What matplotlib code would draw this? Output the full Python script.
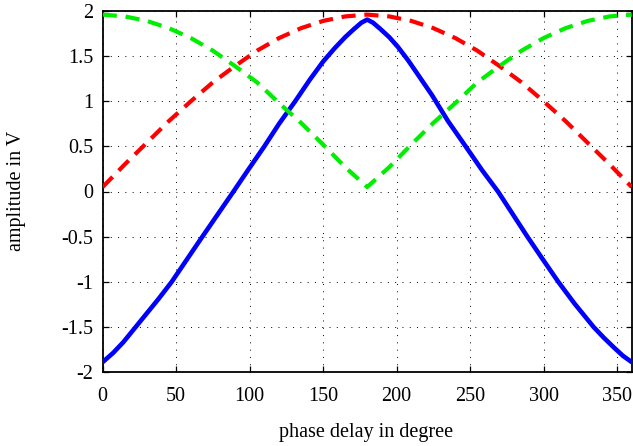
import numpy as np
import matplotlib
matplotlib.use('Agg')
import matplotlib.pyplot as plt

plt.rcParams['font.family'] = ['Liberation Serif', 'DejaVu Serif']
plt.rcParams['font.size'] = 14.5

# phase delay in degree
deg_15 = [0, 15, 30, 45, 60, 75, 90, 105, 120, 135, 150, 165, 180,
          195, 210, 225, 240, 255, 270, 285, 300, 315, 330, 345, 360]
red_vals = [0.05, 0.30, 0.54, 0.78, 1.00, 1.21, 1.39, 1.56, 1.70, 1.81, 1.89, 1.94, 1.96,
            1.94, 1.89, 1.81, 1.70, 1.56, 1.39, 1.21, 1.00, 0.78, 0.54, 0.30, 0.05]
green_vals = [1.96, 1.94, 1.89, 1.81, 1.70, 1.56, 1.39, 1.21, 0.98, 0.76, 0.52, 0.27, 0.05,
              0.27, 0.52, 0.76, 0.98, 1.21, 1.39, 1.56, 1.70, 1.81, 1.89, 1.94, 1.96]

blue_deg = [0, 7, 14, 21, 29, 38, 47, 57, 67, 78, 89, 99, 110, 120, 131, 141,
            150, 158, 165, 171, 176, 180,
            184, 189, 195, 201, 208, 216, 224, 235, 247, 258, 269, 279, 289, 299,
            310, 321, 334, 341, 348, 354, 360]
blue_vals = [-1.89, -1.79, -1.67, -1.53, -1.37, -1.19, -1.0, -0.76, -0.52, -0.26, 0.0,
             0.24, 0.5, 0.75, 1.0, 1.24, 1.44, 1.59, 1.71, 1.80, 1.87, 1.905,
             1.87, 1.80, 1.71, 1.60, 1.45, 1.26, 1.07, 0.78, 0.5, 0.24, 0.0, -0.25,
             -0.5, -0.74, -1.0, -1.24, -1.5, -1.62, -1.73, -1.82, -1.89]

xticks = [0, 50, 100, 150, 200, 250, 300, 350]
yticks = [-2, -1.5, -1, -0.5, 0, 0.5, 1, 1.5, 2]
ytick_labels = ['-2', '-1.5', '-1', '-0.5', '0', '0.5', '1', '1.5', '2']

fig = plt.figure(figsize=(6.33, 4.46), dpi=100)
ax = fig.add_axes([102.7 / 633, 74 / 446, 529 / 633, 361 / 446])

ax.plot(blue_deg, blue_vals, color='#0000ff', lw=3.3, solid_joinstyle='round',
        solid_capstyle='round', zorder=3)
ax.plot(deg_15, red_vals, color='#ff0000', lw=3.0, dashes=(3.4, 2.1), zorder=3)
ax.plot(deg_15, green_vals, color='#00ee00', lw=3.0, dashes=(3.4, 2.1), zorder=3)

ax.set_xlim(0, 360)
ax.set_ylim(-2, 2)
ax.set_xticks(xticks)
ax.set_yticks(yticks)
ax.set_yticklabels(ytick_labels)

ax.grid(True, color='black', lw=0.7, linestyle=(0, (1, 6.5)))
ax.tick_params(direction='in', length=4, width=0.9, top=True, right=True,
               pad=7)
ax.tick_params(axis='x', pad=11)
for s in ax.spines.values():
    s.set_linewidth(1.3)

fig.text(366.5 / 633, 1 - 433 / 446, 'phase delay in degree', ha='center', va='center')
fig.text(17 / 633, 1 - 191 / 446, 'amplitude in V', ha='center', va='center',
         rotation=90)

fig.savefig('out.png', dpi=100)
